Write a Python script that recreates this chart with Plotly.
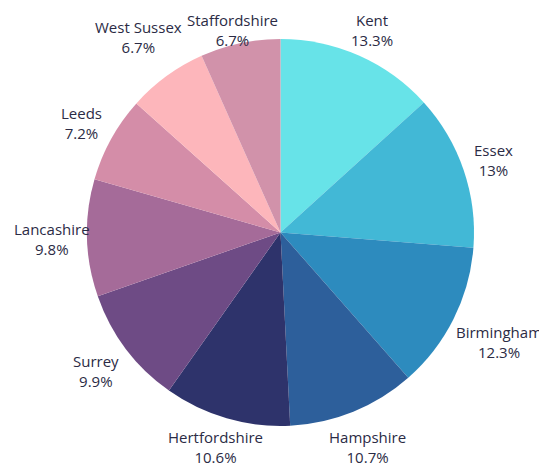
import math
import plotly.graph_objects as go

regions = ["Kent", "Essex", "Birmingham", "Hampshire", "Hertfordshire",
           "Surrey", "Lancashire", "Leeds", "West Sussex", "Staffordshire"]
shares = [13.3, 13, 12.3, 10.7, 10.6, 9.9, 9.8, 7.2, 6.7, 6.7]
colors = ["#67E3E8", "#42B8D6", "#2D8BBE", "#2D5F9B", "#2E336B",
          "#6E4B85", "#A56B99", "#D48DA8", "#FDB6BB", "#D192AA"]

W, H = 547, 467
ML, MR, MT, MB = 79, 81, 31, 49
FONT_SIZE = 15
TEXT_COLOR = "#2B2B45"
VIS_W, VIS_H = W - 8, H - 8   # area visible in the window

fig = go.Figure(go.Pie(
    labels=regions,
    values=shares,
    sort=False,
    direction="clockwise",
    rotation=0,
    marker=dict(colors=colors, line=dict(width=0)),
    textinfo="none",
    hoverinfo="label+value",
    showlegend=False,
))

# label placement around the pie (derived from the slice angles)
pw, ph = W - ML - MR, H - MT - MB
radius = min(pw, ph) / 2
cx0, cy0 = ML + pw / 2, MT + ph / 2
gap = 7
line_h = 1.3 * FONT_SIZE
total = sum(shares)
cum = 0.0
annotations = []
for name, val in zip(regions, shares):
    mid = (cum + val / 2) / total * 2 * math.pi
    cum += val
    pct = f"{val:g}%"
    hw = max(len(name), len(pct)) * 0.52 * FONT_SIZE / 2
    hh = line_h
    s, c = math.sin(mid), math.cos(mid)
    dist = radius + gap + hw * abs(s) + hh * abs(c)
    lx = cx0 + dist * s
    ly = cy0 - dist * c
    # keep labels inside the visible window
    half_w = max(len(name), len(pct)) * 0.56 * FONT_SIZE / 2
    lx = min(max(lx, half_w + 2), VIS_W - half_w - 1)
    ly = min(max(ly, hh + 2), VIS_H - hh - 1)
    annotations.append(dict(
        x=(lx - ML) / pw, y=1 - (ly - MT) / ph,
        xref="paper", yref="paper",
        text=f"{name}<br>{pct}",
        showarrow=False, xanchor="center", yanchor="middle", align="center",
        font=dict(family="Open Sans", size=FONT_SIZE, color=TEXT_COLOR),
    ))

fig.update_layout(
    width=W, height=H,
    margin=dict(l=ML, r=MR, t=MT, b=MB),
    paper_bgcolor="white",
    plot_bgcolor="white",
    annotations=annotations,
)

fig.write_html("out.html")
